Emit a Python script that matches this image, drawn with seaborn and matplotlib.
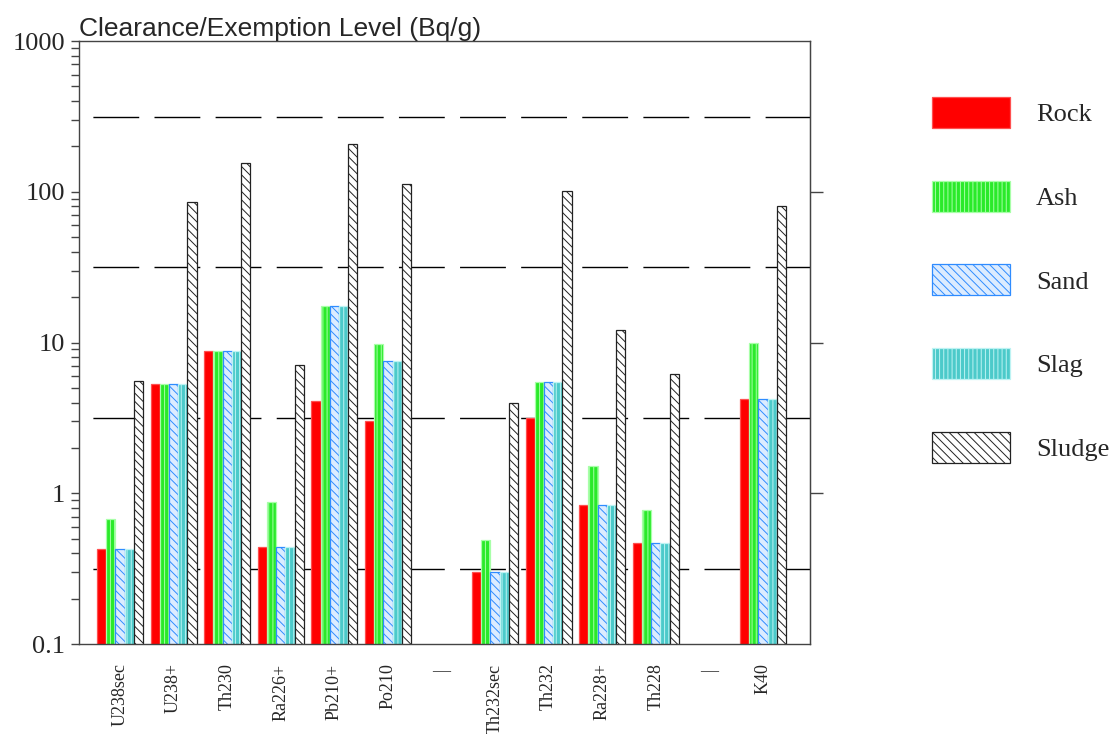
import numpy as np
import pandas as pd
import matplotlib
matplotlib.use("Agg")
import matplotlib.pyplot as plt
import seaborn as sns
from matplotlib.patches import Patch
from matplotlib.ticker import FixedLocator, LogLocator, NullFormatter, NullLocator

# nuclides (gap slots keep the two groups apart)
categories = ["U238sec", "U238+", "Th230", "Ra226+", "Pb210+", "Po210", "gap1",
              "Th232sec", "Th232", "Ra228+", "Th228", "gap2", "K40"]
tick_labels = ["U238sec", "U238+", "Th230", "Ra226+", "Pb210+", "Po210", "\u2014",
               "Th232sec", "Th232", "Ra228+", "Th228", "\u2014", "K40"]
materials = ["Rock", "Ash", "Sand", "Slag", "Sludge"]

# Bq/g (NaN = empty slot)
rock = [0.43, 5.3, 8.8, 0.44, 4.1, 3.0, np.nan, 0.30, 3.15, 0.83, 0.47, np.nan, 4.25]
ash = [0.68, 5.3, 8.8, 0.88, 17.4, 9.8, np.nan, 0.49, 5.5, 1.51, 0.78, np.nan, 10.0]
sand = [0.43, 5.3, 8.8, 0.44, 17.4, 7.6, np.nan, 0.30, 5.5, 0.83, 0.47, np.nan, 4.25]
slag = [0.43, 5.3, 8.8, 0.44, 17.4, 7.6, np.nan, 0.30, 5.5, 0.83, 0.47, np.nan, 4.25]
sludge = [5.6, 86, 155, 7.1, 208, 113, np.nan, 3.95, 102, 12.1, 6.2, np.nan, 80]

# half-decade reference levels
ref_levels = [0.316, 3.16, 31.6, 316]

rows = []
for mat, vals in zip(materials, [rock, ash, sand, slag, sludge]):
    for cat, v in zip(categories, vals):
        if not np.isnan(v):
            rows.append({"nuclide": cat, "material": mat, "level": v})
df = pd.DataFrame(rows)

styles = {
    "Rock":   dict(facecolor="#ff0000", edgecolor="#ff5050", hatch=None),
    "Ash":    dict(facecolor="#2aea2a", edgecolor="#a8ffa8", hatch="||||"),
    "Sand":   dict(facecolor="#dcecff", edgecolor="#2f8cff", hatch="\\\\\\\\"),
    "Slag":   dict(facecolor="#4ccaca", edgecolor="#bdf3f3", hatch="||||"),
    "Sludge": dict(facecolor="#ffffff", edgecolor="#222222", hatch="\\\\\\\\"),
}

sns.set_style("white")
plt.rcParams["font.family"] = ["Liberation Serif", "DejaVu Serif"]
plt.rcParams["hatch.linewidth"] = 0.7

fig = plt.figure(figsize=(11.16, 7.34), dpi=100)
ax = fig.add_axes([0.0708, 0.1226, 0.655, 0.8214])
ax.set_yscale("log")

for lv in ref_levels:
    ax.axhline(lv, color="black", lw=1.0, linestyle=(34, (33, 11)), zorder=0.5)

sns.barplot(data=df, x="nuclide", y="level", hue="material", order=categories,
            hue_order=materials, width=0.86, dodge=True, legend=False,
            errorbar=None, saturation=1, ax=ax, zorder=2)

for mat, cont in zip(materials, ax.containers):
    st = styles[mat]
    for p in cont.patches:
        p.set_facecolor(st["facecolor"])
        p.set_edgecolor(st["edgecolor"])
        p.set_linewidth(0.9)
        if st["hatch"]:
            p.set_hatch(st["hatch"])

ax.set_ylim(0.1, 1000)
ax.set_xlim(-0.765, 12.877)
ax.yaxis.set_major_locator(FixedLocator([0.1, 1, 10, 100, 1000]))
ax.set_yticklabels(["0.1", "1", "10", "100", "1000"])
ax.yaxis.set_minor_locator(LogLocator(base=10, subs=np.arange(2, 10)))
ax.yaxis.set_minor_formatter(NullFormatter())
ax.tick_params(axis="y", which="both", direction="out", left=True, length=6,
               width=1, color="#444444", labelsize=19, pad=4)

# short outward marks on the right frame at the inner decades
sec = ax.secondary_yaxis("right")
sec.set_yticks([1, 10, 100])
sec.set_yticklabels([])
sec.yaxis.set_minor_locator(NullLocator())
sec.tick_params(axis="y", direction="out", length=9, width=1, color="#444444")
sec.spines["right"].set_color("#444444")

ax.set_xticks(range(len(categories)))
ax.set_xticklabels(tick_labels, rotation=90, fontsize=13)
ax.tick_params(axis="x", length=0, pad=14)
for lbl in ax.get_xticklabels():
    if lbl.get_text() == "\u2014":
        lbl.set_rotation(0)

ax.set_xlabel("")
ax.set_ylabel("")
for sp in ax.spines.values():
    sp.set_color("#444444")
    sp.set_linewidth(1.0)

ax.set_title("Clearance/Exemption Level (Bq/g)", loc="left", pad=3,
             fontsize=19, family="Liberation Sans")

handles = [Patch(facecolor=styles[m]["facecolor"], edgecolor=styles[m]["edgecolor"],
                 hatch=styles[m]["hatch"], linewidth=0.9) for m in materials]
fig.legend(handles, materials, loc="upper left", bbox_to_anchor=(0.835, 0.868),
           frameon=False, fontsize=19, handlelength=2.95, handleheight=1.43,
           labelspacing=2.0, handletextpad=1.0, borderpad=0, borderaxespad=0)

fig.savefig("out.png", dpi=100)
